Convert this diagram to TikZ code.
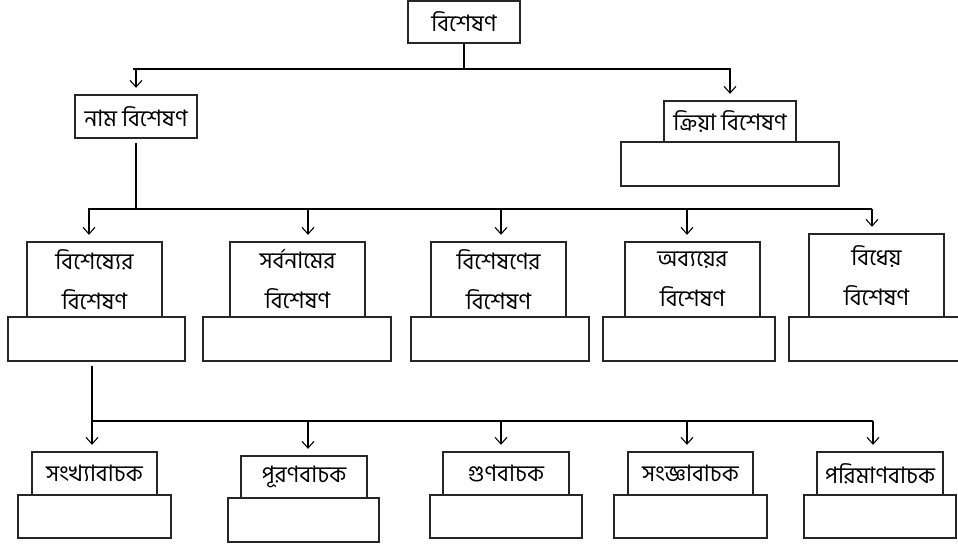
\documentclass[tikz,border=0pt]{standalone}
\usepackage{fontspec}
\newfontfamily\bn[Script=Bengali]{Hind Siliguri}
\usetikzlibrary{arrows.meta}
\tikzset{
  box/.style={draw=black!85, line width=0.8pt, inner sep=0pt, align=center, font=\bn\fontsize{17}{30}\selectfont},
  bus/.style={line width=1.6pt},
  stem/.style={line width=0.8pt},
  arr/.style={line width=0.8pt, -{Straight Barb[length=5pt,width=9pt,line width=0.8pt]}, shorten >=5pt}
}
\newcommand\mybox[6]{\node[box, minimum width={0.75pt*(#4-#2)}, minimum height={0.75pt*(#5-#3)}] (#1) at ({(#2+#4)/2},{(#3+#5)/2}) {#6};}
\begin{document}
\begin{tikzpicture}[x=0.75pt,y=-0.75pt]
\useasboundingbox (0,0) rectangle (958,544);
% top
\mybox{root}{408}{1}{520}{43}{বিশেষণ}
\mybox{nam}{75}{95}{197}{138}{নাম বিশেষণ}
\mybox{kriyaE}{621}{142}{839}{186}{}
\mybox{kriya}{664}{101}{796}{142}{ক্রিয়া বিশেষণ}
% row 2
\mybox{e1}{8}{317}{185}{361}{}
\mybox{e2}{203}{317}{391}{361}{}
\mybox{e3}{411}{317}{589}{361}{}
\mybox{e4}{603}{317}{775}{361}{}
\mybox{e5}{789}{317}{962}{361}{}
\mybox{s1}{27}{242}{162}{317}{বিশেষ্যের\\বিশেষণ}
\mybox{s2}{230}{242}{365}{317}{সর্বনামের\\বিশেষণ}
\mybox{s3}{431}{242}{566}{317}{বিশেষণের\\বিশেষণ}
\mybox{s4}{625}{242}{760}{317}{অব্যয়ের\\বিশেষণ}
\mybox{s5}{809}{234}{944}{317}{বিধেয়\\বিশেষণ}
% row 3
\mybox{f1}{18}{495}{171}{538}{}
\mybox{f2}{228}{498}{379}{542}{}
\mybox{f3}{430}{495}{582}{538}{}
\mybox{f4}{614}{495}{767}{538}{}
\mybox{f5}{804}{495}{956}{538}{}
\mybox{t1}{32}{452}{157}{495}{সংখ্যাবাচক}
\mybox{t2}{241}{456}{367}{498}{পূরণবাচক}
\mybox{t3}{443}{452}{569}{495}{গুণবাচক}
\mybox{t4}{628}{452}{753}{495}{সংজ্ঞাবাচক}
\mybox{t5}{817}{452}{943}{495}{পরিমাণবাচক}
% bus 1
\coordinate (b1l) at (133,69);
\coordinate (b1r) at (731,69);
\draw[stem] (root.south) -- (root.south |- b1l);
\draw[bus] (b1l) -- (b1r);
\draw[arr] (nam.north |- b1l) -- (nam.north);
\draw[arr] (kriya.north |- b1r) -- (kriya.north);
% bus 2
\coordinate (b2l) at (88,209);
\coordinate (b2r) at (872,209);
\draw[bus, shorten <=3pt] (nam.south) -- (nam.south |- b2l);
\draw[bus] (b2l) -- (b2r);
\coordinate (a1) at (89,209);
\coordinate (a2) at (308,209);
\coordinate (a3) at (501,209);
\coordinate (a4) at (687,209);
\coordinate (a5) at (872,209);
\draw[arr] (a1) -- (a1 |- s1.north);
\draw[arr] (a2) -- (a2 |- s2.north);
\draw[arr] (a3) -- (a3 |- s3.north);
\draw[arr] (a4) -- (a4 |- s4.north);
\draw[arr] (a5) -- (a5 |- s5.north);
% bus 3
\coordinate (b3l) at (92,421);
\coordinate (b3r) at (873,421);
\draw[stem, shorten <=3pt] (e1.south -| b3l) -- (b3l);
\draw[bus] (b3l) -- (b3r);
\coordinate (c1) at (92,421);
\coordinate (c2) at (308,421);
\coordinate (c3) at (501,421);
\coordinate (c4) at (687,421);
\coordinate (c5) at (873,421);
\draw[arr] (c1) -- (c1 |- t1.north);
\draw[arr] (c2) -- (c2 |- t2.north);
\draw[arr] (c3) -- (c3 |- t3.north);
\draw[arr] (c4) -- (c4 |- t4.north);
\draw[arr] (c5) -- (c5 |- t5.north);
\end{tikzpicture}
\end{document}
